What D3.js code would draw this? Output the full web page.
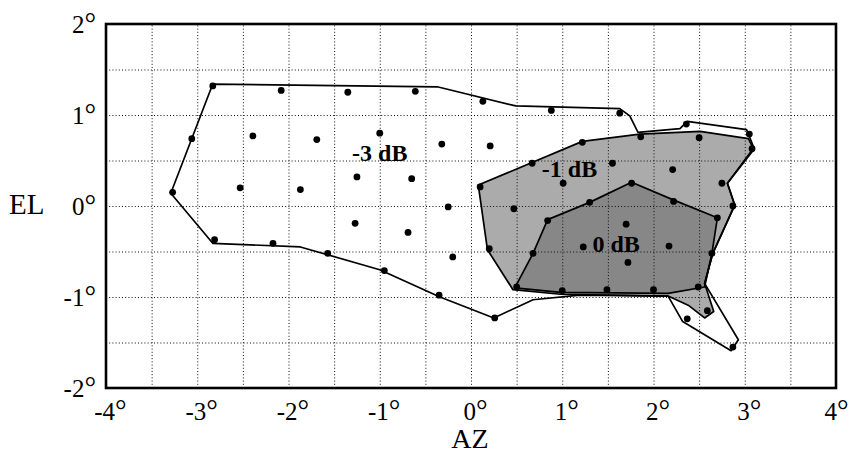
<!DOCTYPE html>
<html>
<head>
<meta charset="utf-8">
<script src="https://cdn.jsdelivr.net/npm/d3@7/dist/d3.min.js"></script>
<style>
  html, body { margin: 0; padding: 0; background: #fff; }
  svg { display: block; }
  text { font-family: "Liberation Serif", "Times New Roman", Times, serif; }
</style>
</head>
<body>
<svg id="chart" width="850" height="455"></svg>
<script>
// ---- data (degrees AZ, EL) ----
const xTicks = [-4, -3, -2, -1, 0, 1, 2, 3, 4];
const yTicks = [-2, -1, 0, 1, 2];
const xGrid = [-3.5, -3, -2.5, -2, -1.5, -1, -0.5, 0, 0.5, 1, 1.5, 2, 2.5, 3, 3.5];
const yGrid = [-1.5, -1, -0.5, 0, 0.5, 1, 1.5];

// -3 dB contour (outer outline)
const contour3dB = [
  [-2.83, 1.34], [-0.37, 1.31], [0.49, 1.10], [1.63, 1.07], [1.74, 0.99], [1.83, 0.81],
  [2.29, 0.85], [2.37, 0.93], [3.02, 0.84], [3.10, 0.64], [2.81, 0.25], [2.89, 0.01],
  [2.65, -0.52], [2.56, -0.85], [2.93, -1.47], [2.85, -1.59], [2.32, -1.27], [2.16, -0.99],
  [1.19, -0.98], [0.68, -1.03], [0.25, -1.23], [-0.34, -1.00], [-1.00, -0.70],
  [-1.87, -0.45], [-2.83, -0.41], [-3.29, 0.14]
];
// -1 dB contour
const contour1dB = [
  [0.08, 0.23], [1.22, 0.71], [1.85, 0.79], [2.51, 0.82], [3.04, 0.74], [3.10, 0.62],
  [2.81, 0.25], [2.89, 0.01], [2.65, -0.52], [2.56, -0.85], [2.66, -1.16], [2.56, -1.23],
  [2.38, -1.09], [2.16, -0.99], [0.98, -0.97], [0.46, -0.92], [0.18, -0.48]
];
// 0 dB contour
const contour0dB = [
  [0.48, -0.90], [0.68, -0.52], [0.84, -0.15], [1.30, 0.04], [1.76, 0.26], [2.21, 0.07],
  [2.70, -0.13], [2.64, -0.52], [2.56, -0.89], [2.16, -0.96], [0.98, -0.95]
];

// measurement points
const ptAZ = [
  -2.83, -2.08, -1.35, -0.61, 0.13, 0.88, 1.63, 2.36, 3.05, 3.08,
  -3.06, -2.39, -1.69, -1.00, -0.32, 0.21, 0.67, 1.22, 1.86, 2.50,
  -3.27, -2.53, -1.87, -1.25, -0.65, 0.10, 1.01, 1.55, 2.21, 2.75,
  2.87, -0.25, 0.47, 0.84, 1.30, 1.76, 2.22, 2.70, 1.70, 1.23,
  1.72, 2.17, 2.64, 2.49, 2.59, 2.37, 2.87, 2.00, 1.49, 1.00,
  0.50, 0.68, 0.20, -0.20, -1.27, -0.69, -1.57, -0.95, -0.35, 0.26,
  -2.81, -2.17
];
const ptEL = [
  1.32, 1.27, 1.25, 1.26, 1.15, 1.05, 1.02, 0.90, 0.79, 0.63,
  0.74, 0.77, 0.73, 0.80, 0.68, 0.66, 0.47, 0.70, 0.76, 0.75,
  0.15, 0.20, 0.18, 0.32, 0.30, 0.21, 0.25, 0.47, 0.40, 0.25,
  0.00, -0.01, -0.03, -0.16, 0.04, 0.25, 0.05, -0.13, -0.20, -0.45,
  -0.62, -0.44, -0.52, -0.89, -1.15, -1.24, -1.55, -0.92, -0.92, -0.93,
  -0.89, -0.52, -0.47, -0.56, -0.19, -0.29, -0.52, -0.71, -0.98, -1.23,
  -0.37, -0.41
];

// region labels
const labelText = ["-3 dB", "-1 dB", "0 dB"];
const labelAZ = [-1.00, 1.08, 1.59];
const labelEL = [0.49, 0.32, -0.51];

// ---- drawing ----
const svg = d3.select("#chart");
const L = 106, R = 836, T = 24, B = 388;
const x = d3.scaleLinear().domain([-4, 4]).range([L, R]);
const y = d3.scaleLinear().domain([-2, 2]).range([B, T]);

const serif = "'Liberation Serif', 'Times New Roman', Times, serif";
const line = d3.line().x(d => x(d[0])).y(d => y(d[1])).curve(d3.curveLinearClosed);

// fills
svg.append("path").attr("d", line(contour3dB)).attr("fill", "#ffffff");
svg.append("path").attr("d", line(contour1dB)).attr("fill", "#ababab");
svg.append("path").attr("d", line(contour0dB)).attr("fill", "#878787");

// grid (dotted)
const gx = svg.append("g").attr("transform", `translate(0,${B})`)
  .call(d3.axisBottom(x).tickValues(xGrid).tickSize(-(B - T)).tickFormat(""));
gx.select(".domain").remove();
gx.selectAll("line").attr("stroke", "#111").attr("stroke-width", 1).attr("stroke-dasharray", "1,2.2");
const gy = svg.append("g").attr("transform", `translate(${L},0)`)
  .call(d3.axisLeft(y).tickValues(yGrid).tickSize(-(R - L)).tickFormat(""));
gy.select(".domain").remove();
gy.selectAll("line").attr("stroke", "#111").attr("stroke-width", 1).attr("stroke-dasharray", "1,2.2");

// outlines
[contour3dB, contour1dB, contour0dB].forEach(c => {
  svg.append("path").attr("d", line(c))
    .attr("fill", "none").attr("stroke", "#000")
    .attr("stroke-width", 1.7).attr("stroke-linejoin", "round");
});

// points
svg.append("g").selectAll("circle")
  .data(ptAZ.map((a, i) => [a, ptEL[i]]))
  .join("circle")
  .attr("cx", d => x(d[0])).attr("cy", d => y(d[1]))
  .attr("r", 3.4).attr("fill", "#000");

// region labels
svg.append("g").selectAll("text")
  .data(labelText.map((t, i) => [t, labelAZ[i], labelEL[i]]))
  .join("text")
  .attr("x", d => x(d[1])).attr("y", d => y(d[2]))
  .attr("text-anchor", "middle")
  .style("font-family", serif).attr("font-weight", "bold").attr("font-size", 24)
  .attr("fill", "#000")
  .text(d => d[0]);

// frame
svg.append("rect").attr("x", L).attr("y", T).attr("width", R - L).attr("height", B - T)
  .attr("fill", "none").attr("stroke", "#000").attr("stroke-width", 2.6);

// axes
const num = d => (d < 0 ? "-" : "") + Math.abs(d);
const fmt = d => num(d) + "°";
function degreeStyle(sel) {
  sel.selectAll(".tick text").each(function (d) {
    const t = d3.select(this);
    t.text(null);
    t.append("tspan").text(num(d));
    t.append("tspan").attr("font-size", 29).text("°");
  });
}
const ax = svg.append("g").attr("transform", `translate(0,${B})`)
  .call(d3.axisBottom(x).tickValues(xTicks).tickSize(0).tickPadding(14).tickFormat(fmt));
ax.attr("font-family", null);
ax.select(".domain").remove();
ax.selectAll("text").style("font-family", serif).attr("font-size", 25).attr("fill", "#000").attr("dx", 4);
ax.selectAll(".tick").filter(d => d === xTicks[xTicks.length - 1])
  .select("text").attr("text-anchor", "end").attr("dx", 12);
degreeStyle(ax);

const ay = svg.append("g").attr("transform", `translate(${L},0)`)
  .call(d3.axisLeft(y).tickValues(yTicks).tickSize(0).tickPadding(10).tickFormat(fmt));
ay.attr("font-family", null);
ay.select(".domain").remove();
ay.selectAll("text").style("font-family", serif).attr("font-size", 25).attr("fill", "#000");
degreeStyle(ay);

// axis titles
svg.append("text").attr("x", 470).attr("y", 448).attr("text-anchor", "middle")
  .style("font-family", serif).attr("font-size", 28).attr("fill", "#000").text("AZ");
svg.append("text").attr("x", 9).attr("y", 214).attr("text-anchor", "start")
  .style("font-family", serif).attr("font-size", 29).attr("fill", "#000").text("EL");
</script>
</body>
</html>
